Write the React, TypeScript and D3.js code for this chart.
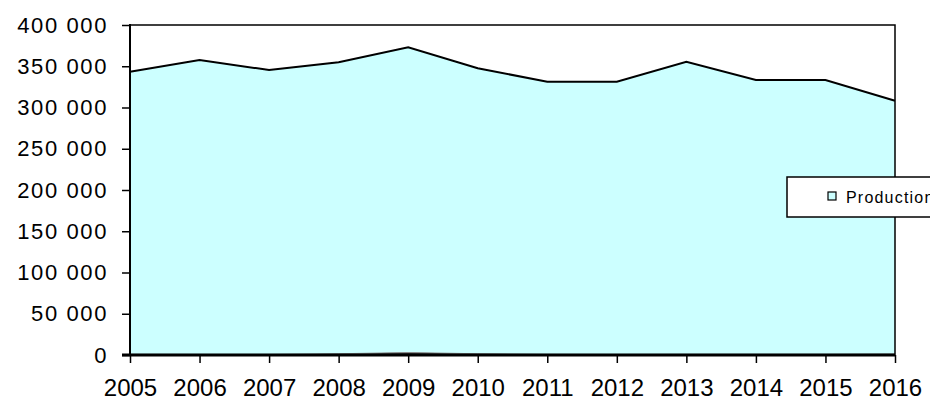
import React, { useEffect, useRef } from 'react'
import * as d3 from 'd3';

const WIDTH = 930;
const HEIGHT = 401;

const years = ['2005', '2006', '2007', '2008', '2009', '2010', '2011', '2012', '2013', '2014', '2015', '2016'];
const production = [343400, 357600, 345400, 354800, 373000, 347500, 331300, 331300, 355500, 333300, 333300, 308200];
const other = [800, 700, 700, 1500, 3000, 1500, 800, 700, 800, 800, 800, 1200];
const yTicks = [0, 50000, 100000, 150000, 200000, 250000, 300000, 350000, 400000];

const FONT = "'Liberation Sans', Arial, sans-serif";

const App = () => {
    const svgRef = useRef<SVGSVGElement>(null);

    useEffect(() => {
      const margin = { left: 130, right: 35, top: 25, bottom: 46 };
      const svg = d3.select(svgRef.current);
      svg.selectAll("*").remove();

      const x = d3.scalePoint()
          .domain(years)
          .range([margin.left, WIDTH - margin.right]);
      const y = d3.scaleLinear()
          .domain([0, 400000])
          .range([HEIGHT - margin.bottom, margin.top]);

      // space as thousands separator
      const fmt = d3.formatLocale({ decimal: ",", thousands: "\u00a0", grouping: [3], currency: ["", ""] }).format(",d");

      // Main area.
      const area = d3.area<number>()
          .x((d, i) => x(years[i])!)
          .y0(y(0))
          .y1(d => y(d));
      const line = d3.line<number>()
          .x((d, i) => x(years[i])!)
          .y(d => y(d));

      svg.append("path")
          .attr("d", area(production))
          .attr("fill", "#ccffff");
      svg.append("path")
          .attr("d", line(production))
          .attr("fill", "none")
          .attr("stroke", "#000")
          .attr("stroke-width", 2);

      // Small series near zero.
      svg.append("path")
          .attr("d", area(other))
          .attr("fill", "#333");
      svg.append("path")
          .attr("d", line(other))
          .attr("fill", "none")
          .attr("stroke", "#888")
          .attr("stroke-width", 1);

      // Plot frame (top and right).
      const x0 = margin.left, x1 = WIDTH - margin.right;
      const yTop = margin.top, yBot = HEIGHT - margin.bottom;
      svg.append("path")
          .attr("d", `M${x0},${yTop}H${x1}V${yBot}`)
          .attr("fill", "none")
          .attr("stroke", "#000")
          .attr("stroke-width", 1.5);

      // Y axis.
      const yAxis = svg.append("g")
          .attr("transform", `translate(${x0},0)`)
          .call(d3.axisLeft(y).tickValues(yTicks).tickFormat(d => fmt(+d)).tickSize(8).tickPadding(14));
      yAxis.select(".domain").attr("stroke-width", 2).attr("d", `M0,${yTop - 1}V${yBot}`);
      yAxis.selectAll(".tick line").attr("stroke-width", 1.5);
      yAxis.selectAll("text")
          .attr("font-family", FONT)
          .attr("font-size", 22)
          .attr("letter-spacing", 1.6)
          .attr("fill", "#000");

      // X axis.
      const xAxis = svg.append("g")
          .attr("transform", `translate(0,${yBot})`)
          .call(d3.axisBottom(x).tickSize(8).tickPadding(16));
      xAxis.select(".domain").attr("stroke-width", 3).attr("d", `M${x0 - 8},0H${x1}`);
      xAxis.selectAll(".tick line").attr("stroke-width", 1.5);
      xAxis.selectAll("text")
          .attr("font-family", FONT)
          .attr("font-size", 24)
          .attr("fill", "#000");

      // Legend (cut off at the right edge).
      const legend = svg.append("g").attr("transform", "translate(787,177)");
      legend.append("rect")
          .attr("width", 160)
          .attr("height", 40)
          .attr("fill", "#fff")
          .attr("stroke", "#000")
          .attr("stroke-width", 1.5);
      legend.append("rect")
          .attr("x", 41)
          .attr("y", 15)
          .attr("width", 8)
          .attr("height", 8)
          .attr("fill", "#ccffff")
          .attr("stroke", "#000")
          .attr("stroke-width", 1.2);
      legend.append("text")
          .attr("x", 59)
          .attr("y", 26)
          .attr("font-family", FONT)
          .attr("font-size", 16)
          .attr("letter-spacing", 1.2)
          .text("Production");
    }, []);

    return (
        <svg ref={svgRef} width={WIDTH} height={HEIGHT}
             style={{ position: 'absolute', left: 0, top: 0, overflow: 'hidden' }} />
    );
}

export default App;
